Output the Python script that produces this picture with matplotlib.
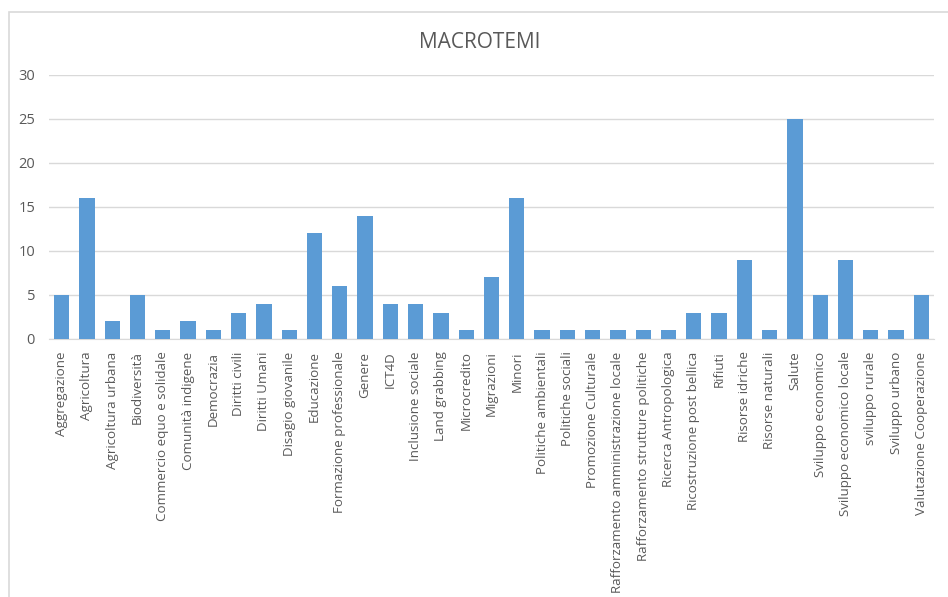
import matplotlib.pyplot as plt
from matplotlib.patches import Rectangle

categories = ['Aggregazione', 'Agricoltura', 'Agricoltura urbana', 'Biodiversità',
              'Commercio equo e solidale', 'Comunità indigene', 'Democrazia',
              'Diritti civili', 'Diritti Umani', 'Disagio giovanile', 'Educazione',
              'Formazione professionale', 'Genere', 'ICT4D', 'Inclusione sociale',
              'Land grabbing', 'Microcredito', 'Migrazioni', 'Minori',
              'Politiche ambientali', 'Politiche sociali', 'Promozione Culturale',
              'Rafforzamento amministrazione locale', 'Rafforzamento strutture politiche',
              'Ricerca Antropologica', 'Ricostruzione post bellica', 'Rifiuti',
              'Risorse idriche', 'Risorse naturali', 'Salute', 'Sviluppo economico',
              'Sviluppo economico locale', 'sviluppo rurale', 'Sviluppo urbano',
              'Valutazione Cooperazione']
counts = [5, 16, 2, 5, 1, 2, 1, 3, 4, 1, 12, 6, 14, 4, 4, 3, 1, 7, 16,
          1, 1, 1, 1, 1, 1, 3, 3, 9, 1, 25, 5, 9, 1, 1, 5]
yticks = [0, 5, 10, 15, 20, 25, 30]

plt.rcParams['font.family'] = ['Open Sans', 'DejaVu Sans']

fig = plt.figure(figsize=(9.48, 5.97), dpi=100)

# chart area border like excel
fig.patches.append(Rectangle((9 / 948, -0.1), 1.2, 1 - 12 / 597 + 0.1,
                             transform=fig.transFigure, fill=False,
                             edgecolor='#d9d9d9', linewidth=1.2))

ax = fig.add_axes([49 / 948, 1 - 339 / 597, (934 - 49) / 948, (339 - 75) / 597])
x = range(len(categories))
ax.bar(x, counts, width=0.6, color='#5b9bd5', zorder=3)

ax.set_xlim(-0.5, len(categories) - 0.5)
ax.set_ylim(0, 30)
ax.set_yticks(yticks)
ax.set_xticks(list(x))
ax.set_xticklabels(categories, rotation=90, fontsize=9.6, color='#595959')
ax.tick_params(axis='y', labelsize=10.5, labelcolor='#595959', length=0, pad=10)
ax.tick_params(axis='x', length=0, pad=9)
ax.grid(axis='y', color='#d9d9d9', linewidth=1, zorder=0)
for s in ['top', 'right', 'left']:
    ax.spines[s].set_visible(False)
ax.spines['bottom'].set_color('#d9d9d9')

fig.text(480 / 948, 1 - 42 / 597, 'MACROTEMI', ha='center', va='center',
         fontsize=15, color='#595959')

fig.savefig('out.png', dpi=100)
